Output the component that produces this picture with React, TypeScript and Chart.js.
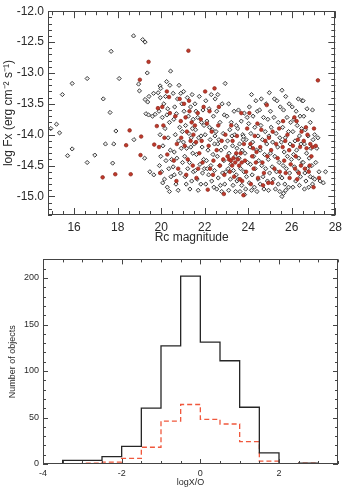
import { useEffect, useRef } from "react";
import { Chart, registerables } from "chart.js";

Chart.register(...registerables);

const FONT = '"Liberation Sans", Arial, Helvetica, sans-serif';
const INK = "#2a2a2a";

// ---- Top panel: X-ray flux vs optical magnitude, [Rc magnitude, log Fx] ----
const allSources: [number, number][] = [
  // bright end
  [14.93, -13.9], [15.19, -13.83], [15.33, -13.97], [15.46, -13.35], [15.7, -14.34], [15.91, -13.17],
  [15.91, -14.23], [16.6, -13.09], [16.6, -14.45], [16.95, -14.33], [17.34, -13.42], [17.44, -14.15],
  [17.65, -13.64], [17.7, -12.65], [17.77, -14.46], [17.82, -14.15], [17.92, -13.94], [18.07, -13.09],
  [18.73, -12.4], [18.75, -14.08], [18.96, -13.18], [19.0, -13.29], [19.15, -12.46], [19.26, -12.5],
  [19.36, -13.0], [19.24, -14.38], [19.48, -14.6], [19.66, -14.65], [19.44, -13.38], [19.26, -13.43],
  [19.38, -13.47], [19.65, -13.33], [19.3, -13.66], [19.42, -13.68], [19.6, -13.7], [19.72, -13.67],
  // 19.8 - 20.5
  [19.86, -13.32], [19.95, -13.21], [19.98, -13.25], [20.25, -13.14], [20.4, -13.2], [20.43, -12.97],
  [20.55, -13.33], [19.96, -13.4], [20.2, -13.38], [20.12, -13.5], [19.9, -13.62], [20.3, -13.58],
  [20.05, -13.72], [20.38, -13.8], [20.18, -13.9], [19.95, -14.0], [20.32, -14.05], [20.08, -14.18],
  [20.42, -14.25], [19.98, -14.35], [20.22, -14.42], [20.35, -14.55], [20.02, -14.6], [20.15, -14.72],
  [20.45, -14.68], [20.07, -14.78], [20.28, -14.85], [20.38, -14.92], [20.48, -14.4], [20.26, -13.68],
  [19.92, -14.5],
  // 20.5 - 21
  [20.62, -13.55], [20.9, -13.33], [20.75, -13.42], [20.58, -13.75], [20.95, -13.5], [20.7, -13.66],
  [20.85, -13.88], [20.65, -14.0], [20.97, -13.95], [20.8, -14.1], [20.6, -14.28], [20.92, -14.22],
  [20.72, -14.38], [20.55, -14.52], [20.88, -14.62], [20.68, -14.8], [20.98, -14.45], [20.78, -14.9],
  [20.6, -14.65], [20.82, -13.2],
  // 21 - 21.5
  [21.2, -13.4], [21.42, -13.35], [21.05, -13.62], [21.35, -13.55], [21.12, -13.85], [21.47, -13.75],
  [21.27, -13.98], [21.02, -14.12], [21.38, -14.05], [21.17, -14.22], [21.45, -14.3], [21.08, -14.35],
  [21.3, -14.45], [21.22, -14.55], [21.48, -14.6], [21.1, -14.68], [21.4, -14.75], [21.15, -14.8],
  [21.32, -14.88], [21.25, -13.7], [21.43, -13.9], [21.03, -13.3], [21.36, -14.2],
  // 21.5 - 22
  [21.75, -13.38], [21.55, -13.5], [21.92, -13.6], [21.68, -13.72], [21.85, -13.8], [21.58, -13.92],
  [21.97, -13.85], [21.72, -14.05], [21.52, -14.15], [21.88, -14.2], [21.62, -14.32], [21.95, -14.4],
  [21.78, -14.48], [21.57, -14.58], [21.9, -14.62], [21.65, -14.72], [21.82, -14.8], [21.7, -14.9],
  [21.98, -14.55], [21.6, -13.62], [21.83, -14.02],
  // 22 - 22.5
  [22.3, -13.35], [22.05, -13.45], [22.48, -13.42], [22.2, -13.58], [22.4, -13.7], [22.1, -13.78],
  [22.35, -13.92], [22.02, -14.0], [22.25, -14.08], [22.45, -14.15], [22.15, -14.25], [22.38, -14.32],
  [22.08, -14.42], [22.28, -14.5], [22.45, -14.58], [22.18, -14.65], [22.32, -14.75], [22.05, -14.8],
  [22.42, -14.85], [22.22, -13.88], [22.12, -14.55], [22.47, -14.02],
  // 22.5 - 23
  [22.94, -13.17], [22.6, -13.35], [22.8, -13.5], [22.55, -13.62], [22.9, -13.68], [22.7, -13.8],
  [22.52, -13.95], [22.85, -13.98], [22.65, -14.08], [22.95, -14.2], [22.75, -14.25], [22.58, -14.35],
  [22.88, -14.42], [22.68, -14.5], [22.82, -14.62], [22.62, -14.7], [22.97, -14.6], [22.72, -14.82],
  [22.55, -14.88], [22.78, -14.92], [22.92, -14.8], [22.6, -14.15],
  // 23 - 23.5
  [23.1, -13.5], [23.35, -13.62], [23.02, -13.7], [23.22, -13.8], [23.45, -13.85], [23.15, -13.92],
  [23.38, -14.0], [23.05, -14.1], [23.28, -14.18], [23.48, -14.22], [23.12, -14.3], [23.4, -14.35],
  [23.2, -14.48], [23.08, -14.55], [23.32, -14.58], [23.45, -14.65], [23.18, -14.72], [23.3, -14.82],
  [23.1, -14.9], [23.42, -14.92], [23.25, -14.02], [23.48, -14.75],
  // 23.5 - 24
  [23.55, -13.6], [23.82, -13.65], [23.68, -13.78], [23.95, -13.72], [23.52, -13.9], [23.75, -14.0],
  [23.78, -14.03], [23.9, -14.08], [23.6, -14.15], [23.72, -14.25], [23.85, -14.3], [23.58, -14.38],
  [23.97, -14.45], [23.65, -14.55], [23.8, -14.6], [23.92, -14.68], [23.55, -14.72], [23.7, -14.82],
  [23.88, -14.88], [23.62, -14.92], [23.83, -14.97], [23.76, -14.08],
  // 24 - 24.5
  [24.35, -13.45], [24.15, -13.35], [24.05, -13.55], [24.42, -13.62], [24.22, -13.7], [24.02, -13.82],
  [24.3, -13.88], [24.12, -13.98], [24.45, -14.02], [24.2, -14.12], [24.08, -14.2], [24.38, -14.25],
  [24.25, -14.35], [24.48, -14.42], [24.1, -14.48], [24.32, -14.55], [24.18, -14.65], [24.45, -14.72],
  [24.05, -14.78], [24.28, -14.85], [24.4, -14.92], [24.15, -14.9],
  // 24.5 - 25
  [24.97, -13.32], [24.6, -13.42], [24.82, -13.5], [24.52, -13.6], [24.7, -13.72], [24.9, -13.75],
  [24.58, -13.85], [24.78, -13.95], [24.95, -14.02], [24.65, -14.08], [24.85, -14.15], [24.55, -14.25],
  [24.75, -14.32], [24.92, -14.4], [24.62, -14.5], [24.8, -14.55], [24.98, -14.62], [24.68, -14.68],
  [24.88, -14.75], [24.55, -14.8], [24.72, -14.88], [24.93, -14.9],
  // 25 - 25.5
  [25.2, -13.42], [25.32, -13.45], [25.47, -13.55], [25.02, -13.62], [25.18, -13.72], [25.38, -13.8],
  [25.05, -13.88], [25.28, -13.98], [25.45, -14.05], [25.12, -14.12], [25.35, -14.2], [25.02, -14.3],
  [25.22, -14.35], [25.42, -14.45], [25.1, -14.52], [25.3, -14.6], [25.48, -14.68], [25.15, -14.72],
  [25.38, -14.8], [25.25, -14.88], [25.45, -14.92],
  // 25.5 - 26
  [25.55, -13.28], [25.72, -13.38], [25.88, -13.5], [25.62, -13.6], [25.78, -13.72], [25.95, -13.8],
  [25.58, -13.88], [25.85, -13.95], [25.7, -14.05], [25.52, -14.12], [25.92, -14.15], [25.65, -14.28],
  [25.8, -14.35], [25.98, -14.4], [25.6, -14.5], [25.75, -14.55], [25.9, -14.62], [25.55, -14.7],
  [25.68, -14.8], [25.85, -14.85], [25.55, -15.0], [25.62, -14.95], [25.72, -14.9],
  // 26 - 26.5
  [26.3, -13.42], [26.48, -13.45], [26.02, -13.55], [26.2, -13.62], [26.38, -13.7], [26.1, -13.75],
  [26.25, -13.85], [26.45, -13.9], [26.05, -13.95], [26.35, -14.02], [26.15, -14.1], [26.42, -14.15],
  [26.22, -14.25], [26.08, -14.32], [26.32, -14.38], [26.48, -14.45], [26.12, -14.52], [26.28, -14.6],
  [26.4, -14.68], [26.18, -14.75], [26.35, -14.82], [26.05, -14.85],
  // 26.5 - 27
  [26.52, -13.45], [26.7, -13.58], [26.95, -13.6], [26.55, -13.7], [26.85, -13.8], [26.62, -13.92],
  [26.75, -14.02], [26.98, -14.08], [26.58, -14.15], [26.88, -14.22], [26.68, -14.3], [26.8, -14.38],
  [26.52, -14.45], [26.92, -14.5], [26.72, -14.55], [26.6, -14.62], [26.85, -14.68], [26.65, -14.75],
  [26.95, -14.8], [26.78, -14.85], [26.58, -14.88], [26.98, -14.7],
  // faint end
  [27.05, -14.0], [27.15, -14.22], [27.1, -14.45], [27.25, -14.6], [27.05, -14.72], [27.3, -14.75],
  [27.45, -14.78], [27.55, -14.6], [27.2, -14.05],
];

const redSources: [number, number][] = [
  [17.31, -14.69], [17.89, -14.64], [18.39, -14.17], [18.55, -13.93], [18.6, -14.64], [19.02, -13.11],
  [19.05, -14.33], [19.08, -14.03], [19.42, -12.82], [19.68, -14.16], [19.8, -13.86], [19.85, -13.57],
  [20.26, -13.3], [20.36, -13.39], [19.95, -14.62], [20.15, -14.05], [20.05, -13.55], [20.28, -14.32],
  [20.4, -13.65], [20.1, -13.85], [19.9, -14.2],
  [20.65, -13.7], [20.92, -14.05], [20.72, -14.15], [20.58, -14.42], [20.78, -14.55], [20.9, -13.78],
  [20.85, -13.42], [21.25, -12.64], [20.7, -14.75],
  [21.05, -13.5], [21.3, -13.62], [21.12, -13.72], [21.4, -13.8], [21.18, -13.95], [21.48, -14.0],
  [21.35, -14.1], [21.22, -14.4], [21.45, -14.5], [21.15, -14.65], [21.28, -13.45], [21.08, -14.18],
  [21.55, -13.85], [21.68, -13.65], [21.82, -13.75], [21.6, -14.12], [21.75, -14.3], [21.9, -14.45],
  [21.95, -13.55], [21.7, -14.55], [21.62, -14.7], [21.86, -14.1],
  [22.02, -13.3], [22.45, -13.25], [22.22, -13.62], [22.1, -13.82], [22.32, -13.95], [22.18, -14.18],
  [22.4, -14.42], [22.25, -14.55], [22.38, -14.65], [22.14, -14.89],
  [22.65, -13.55], [22.62, -13.85], [22.95, -14.0], [22.78, -14.1], [22.55, -14.25], [22.85, -14.4],
  [22.7, -14.5], [22.9, -14.65], [22.88, -14.96],
  [23.05, -14.35], [23.12, -14.4], [23.2, -14.42], [23.28, -14.1], [23.32, -14.38], [23.4, -14.45],
  [23.45, -14.3], [23.15, -14.6], [23.35, -14.68], [23.22, -13.85], [23.48, -14.02], [23.26, -14.5],
  [23.52, -14.4], [23.58, -14.5], [23.65, -14.3], [23.72, -14.75], [23.78, -14.98], [23.8, -14.15],
  [23.85, -14.42], [23.9, -14.6], [23.95, -13.9], [23.7, -14.45], [23.62, -14.72], [23.68, -13.65],
  [24.05, -13.65], [24.42, -13.82], [24.3, -14.02], [24.1, -14.15], [24.38, -14.28], [24.18, -14.35],
  [24.35, -14.45], [24.25, -14.55], [24.45, -14.7], [24.12, -14.8], [24.22, -14.22],
  [24.85, -13.52], [24.6, -13.92], [24.95, -14.05], [24.78, -14.1], [24.55, -14.2], [24.88, -14.35],
  [24.65, -14.45], [24.72, -14.62], [24.92, -14.78], [24.68, -14.82],
  [25.12, -13.95], [25.42, -13.9], [25.28, -14.15], [25.05, -14.25], [25.35, -14.38], [25.2, -14.55],
  [25.45, -14.6], [25.1, -14.78],
  [25.6, -13.78], [25.8, -14.0], [25.7, -14.1], [25.58, -14.2], [25.88, -14.25], [25.65, -14.42],
  [25.95, -14.48], [25.72, -14.62], [25.9, -14.7],
  [26.12, -13.72], [26.22, -13.78], [26.45, -13.95], [26.28, -14.08], [26.05, -14.18], [26.38, -14.2],
  [26.18, -14.35], [26.42, -14.5], [26.15, -14.55], [26.32, -14.62], [26.25, -14.72],
  [26.65, -13.88], [26.72, -14.0], [26.55, -14.1], [26.85, -14.15], [26.95, -14.2], [26.68, -14.22],
  [26.9, -14.35], [26.82, -14.5], [26.6, -14.55], [26.78, -14.6],
  [27.2, -13.12], [27.02, -13.9], [27.1, -14.18], [27.0, -14.85], [27.25, -14.7],
];

const magTicks = [16, 18, 20, 22, 24, 26, 28];
const fluxTicks = [-12.0, -12.5, -13.0, -13.5, -14.0, -14.5, -15.0];

// ---- Bottom panel: X-ray-to-optical flux ratio histogram ----
// counts[i] covers [binEdges[i], binEdges[i + 1]]
const binEdges = [-3.5, -3.0, -2.5, -2.0, -1.5, -1.0, -0.5, 0.0, 0.5, 1.0, 1.5, 2.0, 2.5, 3.0];
const allCounts = [4, 4, 8, 19, 60, 127, 202, 131, 111, 61, 12, 0, 1];
const redCounts = [0, 1, 2, 6, 18, 46, 64, 48, 43, 24, 3, 0, 1];

const ratioTicks = [-4, -2, 0, 2];
const countTicks = [0, 50, 100, 150, 200];

type BoxOpts = {
  color: string;
  xMajor: number;
  xMinor: number;
  yMajor: number;
  yMinor: number;
  majorLen: number;
  minorLen: number;
};

// Closed frame with inward major/minor ticks on all four sides.
const boxTicks = {
  id: "boxTicks",
  afterDatasetsDraw(chart: any, _args: unknown, o: BoxOpts) {
    const { ctx, chartArea: a } = chart;
    const xs = chart.scales.x;
    const ys = chart.scales.y;
    const isMajor = (v: number, step: number) => Math.abs(v / step - Math.round(v / step)) < 1e-6;
    ctx.save();
    ctx.strokeStyle = o.color;
    ctx.lineWidth = 1;
    ctx.beginPath();
    for (let i = Math.ceil(xs.min / o.xMinor - 1e-6); i * o.xMinor <= xs.max + 1e-6; i++) {
      const v = i * o.xMinor;
      const p = Math.round(xs.getPixelForValue(v)) + 0.5;
      const len = isMajor(v, o.xMajor) ? o.majorLen : o.minorLen;
      ctx.moveTo(p, a.bottom);
      ctx.lineTo(p, a.bottom - len);
      ctx.moveTo(p, a.top);
      ctx.lineTo(p, a.top + len);
    }
    for (let i = Math.ceil(ys.min / o.yMinor - 1e-6); i * o.yMinor <= ys.max + 1e-6; i++) {
      const v = i * o.yMinor;
      const p = Math.round(ys.getPixelForValue(v)) + 0.5;
      const len = isMajor(v, o.yMajor) ? o.majorLen : o.minorLen;
      ctx.moveTo(a.left, p);
      ctx.lineTo(a.left + len, p);
      ctx.moveTo(a.right, p);
      ctx.lineTo(a.right - len, p);
    }
    ctx.stroke();
    ctx.strokeRect(Math.round(a.left) + 0.5, Math.round(a.top) + 0.5, Math.round(a.right - a.left) - 1, Math.round(a.bottom - a.top) - 1);
    ctx.restore();
  },
};

// Outline of a histogram: rise at the first edge, one level per bin, drop at the last edge.
const stepPoints = (counts: number[]) => {
  const pts = [{ x: binEdges[0], y: 0 }];
  counts.forEach((c, i) => pts.push({ x: binEdges[i + 1], y: c }));
  pts.push({ x: binEdges[counts.length], y: 0 });
  return pts;
};

const fixedTicks = (values: number[]) => (axis: any) => {
  axis.ticks = values.map((value) => ({ value }));
};

const hiddenGrid = { display: false, drawTicks: false };

function ScatterPanel() {
  const ref = useRef<HTMLCanvasElement>(null);
  useEffect(() => {
    const chart = new Chart(ref.current!, {
      type: "scatter",
      data: {
        datasets: [
          {
            label: "selected",
            data: redSources.map(([x, y]) => ({ x, y })),
            pointStyle: "circle",
            pointRadius: 1.8,
            pointBackgroundColor: "#c0392b",
            pointBorderColor: "#8a2418",
            pointBorderWidth: 0.7,
          },
          {
            label: "all",
            data: allSources.map(([x, y]) => ({ x, y })),
            pointStyle: "rectRot",
            pointRadius: 2.1,
            pointBackgroundColor: "#eeeeee",
            pointBorderColor: "#3a3a3a",
            pointBorderWidth: 1,
          },
        ],
      },
      options: {
        responsive: false,
        animation: false,
        layout: { padding: { top: 6, right: 7, left: 0, bottom: 0 } },
        plugins: {
          legend: { display: false },
          tooltip: { enabled: false },
          boxTicks: { color: "#444", xMajor: 2, xMinor: 0.5, yMajor: 0.5, yMinor: 0.1, majorLen: 7, minorLen: 4 },
        } as any,
        scales: {
          x: {
            type: "linear",
            min: 14.8,
            max: 28,
            grid: hiddenGrid,
            border: { display: false },
            afterBuildTicks: fixedTicks(magTicks),
            afterFit: (s: any) => { s.height = 35; },
            ticks: { autoSkip: false, maxRotation: 0, padding: 5, color: INK, font: { family: FONT, size: 12 }, callback: (v: any) => String(v) },
            title: { display: true, text: "Rc magnitude", color: INK, font: { family: FONT, size: 12 }, padding: { top: 0, bottom: 5 } },
          },
          y: {
            type: "linear",
            min: -15.3,
            max: -12.0,
            grid: hiddenGrid,
            border: { display: false },
            afterBuildTicks: fixedTicks(fluxTicks),
            afterFit: (s: any) => { s.width = 48; },
            ticks: { autoSkip: false, padding: 4, color: INK, font: { family: FONT, size: 12 }, callback: (v: any) => Number(v).toFixed(1) },
            title: { display: true, text: "log Fx (erg cm\u207B\u00B2 s\u207B\u00B9)", color: INK, font: { family: FONT, size: 12 }, padding: { top: 1, bottom: 0 } },
          },
        },
      },
      plugins: [boxTicks],
    });
    return () => chart.destroy();
  }, []);
  return <canvas ref={ref} width={347} height={250} style={{ position: "absolute", left: 0, top: 0 }} />;
}

function HistogramPanel() {
  const ref = useRef<HTMLCanvasElement>(null);
  useEffect(() => {
    const chart = new Chart(ref.current!, {
      type: "line",
      data: {
        datasets: [
          {
            label: "all",
            data: stepPoints(allCounts),
            stepped: "after",
            borderColor: "#262626",
            borderWidth: 1.3,
            pointRadius: 0,
            fill: false,
          },
          {
            label: "selected",
            data: stepPoints(redCounts),
            stepped: "after",
            borderColor: "#f0583d",
            borderWidth: 1.3,
            borderDash: [5, 3],
            pointRadius: 0,
            fill: false,
          },
        ],
      },
      options: {
        responsive: false,
        animation: false,
        layout: { padding: { top: 5, right: 9, left: 0, bottom: 0 } },
        plugins: {
          legend: { display: false },
          tooltip: { enabled: false },
          boxTicks: { color: "#444", xMajor: 2, xMinor: 0.5, yMajor: 50, yMinor: 10, majorLen: 5, minorLen: 3 },
        } as any,
        scales: {
          x: {
            type: "linear",
            min: -4,
            max: 3.5,
            grid: hiddenGrid,
            border: { display: false },
            afterBuildTicks: fixedTicks(ratioTicks),
            afterFit: (s: any) => { s.height = 26; },
            ticks: { autoSkip: false, maxRotation: 0, padding: 4, color: INK, font: { family: FONT, size: 9 }, callback: (v: any) => String(v) },
            title: { display: true, text: "logX/O", color: INK, font: { family: FONT, size: 9 }, padding: { top: 0, bottom: 2 } },
          },
          y: {
            type: "linear",
            min: 0,
            max: 220,
            grid: hiddenGrid,
            border: { display: false },
            afterBuildTicks: fixedTicks(countTicks),
            afterFit: (s: any) => { s.width = 43; },
            ticks: { autoSkip: false, padding: 4, color: INK, font: { family: FONT, size: 9 }, callback: (v: any) => String(v) },
            title: { display: true, text: "Number of objects", color: INK, font: { family: FONT, size: 9 }, padding: { top: 7, bottom: 0 } },
          },
        },
      },
      plugins: [boxTicks],
    });
    return () => chart.destroy();
  }, []);
  return <canvas ref={ref} width={347} height={240} style={{ position: "absolute", left: 0, top: 250 }} />;
}

export default function App() {
  return (
    <div style={{ position: "absolute", left: 0, top: 0, width: 347, height: 490, background: "#ffffff" }}>
      <ScatterPanel />
      <HistogramPanel />
    </div>
  );
}
